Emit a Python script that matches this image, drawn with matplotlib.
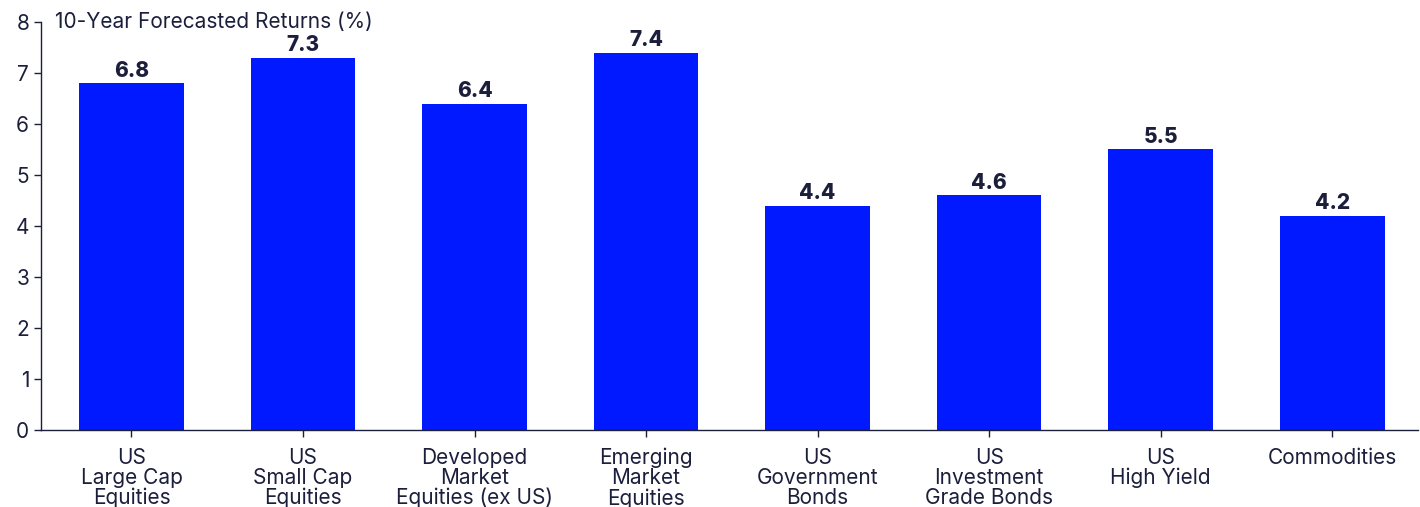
import matplotlib.pyplot as plt
import numpy as np

plt.rcParams['font.family'] = ['Inter', 'DejaVu Sans']

categories = ['US\nLarge Cap\nEquities', 'US\nSmall Cap\nEquities', 'Developed\nMarket\nEquities (ex US)',
              'Emerging\nMarket\nEquities', 'US\nGovernment\nBonds', 'US\nInvestment\nGrade Bonds',
              'US\nHigh Yield', 'Commodities']
returns = [6.8, 7.3, 6.4, 7.4, 4.4, 4.6, 5.5, 4.2]

BAR = '#0019ff'
INK = '#1c1f3c'

fig = plt.figure(figsize=(14.2, 5.07), dpi=100)
ax = fig.add_axes([0.0289, 0.152, 0.9697, 0.8046])

x = np.arange(len(categories))
ax.bar(x, returns, width=0.61, color=BAR)
for xi, v in zip(x, returns):
    ax.text(xi, v + 0.05, f'{v:.1f}', ha='center', va='bottom', fontsize=15,
            fontweight='heavy', color=INK)

ax.set_xlim(-0.527, 7.5)
ax.set_ylim(0, 8)
ax.set_yticks(range(0, 9))
ax.set_xticks(x)
ax.set_xticklabels(categories, linespacing=1.0)
ax.tick_params(axis='both', colors=INK, labelsize=15, length=5, width=1)
ax.tick_params(axis='x', pad=8)
for side in ['top', 'right']:
    ax.spines[side].set_visible(False)
for side in ['left', 'bottom']:
    ax.spines[side].set_color(INK)
    ax.spines[side].set_linewidth(1)

ax.text(0.01, 1.0, '10-Year Forecasted Returns (%)', transform=ax.transAxes,
        ha='left', va='center', fontsize=15, color=INK)

fig.savefig('out.png', dpi=100)
